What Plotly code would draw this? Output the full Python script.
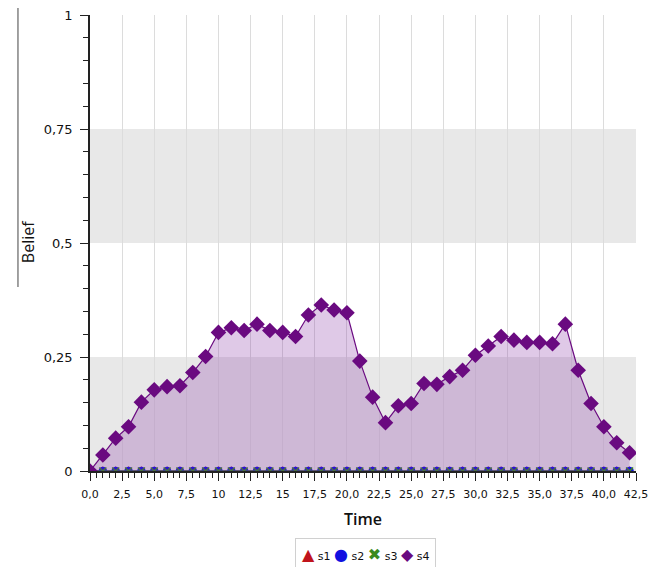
import plotly.graph_objects as go

time = list(range(43))
s1 = [0.0] * 43
s2 = [0.0] * 43
s3 = [0.0] * 43
s4 = [0.0, 0.035, 0.072, 0.097, 0.151, 0.178, 0.185, 0.187, 0.216, 0.251,
      0.304, 0.314, 0.308, 0.322, 0.308, 0.304, 0.295, 0.342, 0.364, 0.353,
      0.347, 0.241, 0.162, 0.106, 0.143, 0.148, 0.192, 0.190, 0.207, 0.221,
      0.254, 0.274, 0.295, 0.287, 0.282, 0.282, 0.279, 0.322, 0.221, 0.148,
      0.097, 0.062, 0.040]

x_tickvals = [i * 2.5 for i in range(18)]
x_ticktext = ["0,0", "2,5", "5,0", "7,5", "10", "12,5", "15", "17,5", "20,0",
              "22,5", "25,0", "27,5", "30,0", "32,5", "35,0", "37,5", "40,0", "42,5"]
y_tickvals = [0, 0.25, 0.5, 0.75, 1]
y_ticktext = ["0", "0,25", "0,5", "0,75", "1"]
bands = [(0, 0.25), (0.5, 0.75)]

series = [
    ("s1", s1, "#c0141c", "triangle-up", "▲"),
    ("s2", s2, "#1010e0", "circle", "●"),
    ("s3", s3, "#3a8a1e", "x-thin", "✖"),
]

fig = go.Figure()

for name, values, color, symbol, _ in series:
    fig.add_trace(go.Scatter(
        x=time, y=values, name=name, mode="lines+markers",
        line=dict(color=color, width=1),
        marker=dict(color=color, symbol=symbol, size=7,
                    line=dict(color=color, width=1.5))))

fig.add_trace(go.Scatter(
    x=time, y=s4, name="s4", mode="lines+markers",
    fill="tozeroy", fillcolor="rgba(128,40,160,0.25)",
    line=dict(color="#6a0a80", width=1.2),
    marker=dict(color="#6a0a80", symbol="diamond", size=12)))

for y0, y1 in bands:
    fig.add_shape(type="rect", xref="x", yref="y", x0=0, x1=42.5, y0=y0, y1=y1,
                  fillcolor="#e8e8e8", line_width=0, layer="below")

# y title with the line beside it
fig.add_shape(type="line", xref="paper", yref="paper",
              x0=-0.1319, x1=-0.1319, y0=1.0154, y1=0.4035,
              line=dict(color="#444444", width=1))
fig.add_annotation(text="Belief", xref="paper", yref="paper", x=-0.1136, y=0.504,
                   xanchor="center", yanchor="middle",
                   textangle=-90, showarrow=False,
                   font=dict(family="Open Sans, sans-serif", size=16,
                             color="#111111", weight=500))

# compact legend box
legend_parts = [(n, c, g) for n, _, c, _, g in series] + [("s4", "#6a0a80", "◆")]
legend_text = " ".join(
    f'<span style="color:{c};font-size:16px">{g}</span> {n}' for n, c, g in legend_parts)
fig.add_annotation(text=legend_text, xref="paper", yref="paper", x=0.5037, y=-0.146,
                   xanchor="center", yanchor="top", showarrow=False,
                   bordercolor="#d0d0d0", borderwidth=1, borderpad=6,
                   bgcolor="white",
                   font=dict(family="DejaVu Sans, sans-serif", size=11, color="#111111"))

fig.update_xaxes(
    range=[0, 42.5], tickvals=x_tickvals, ticktext=x_ticktext,
    showgrid=True, gridcolor="#dcdcdc", gridwidth=1,
    showline=True, linecolor="#222222", linewidth=1.5,
    ticks="outside", ticklen=8, tickcolor="#222222",
    minor=dict(dtick=0.5, ticks="outside", ticklen=5, tickcolor="#222222", showgrid=False),
    tickfont=dict(family="DejaVu Sans, sans-serif", size=11, color="#111111"),
    ticklabelstandoff=4, ticklabeloverflow="allow",
    title=dict(text="Time", font=dict(family="Open Sans, sans-serif", size=16,
                                      color="#111111", weight=600), standoff=14),
    zeroline=False, automargin=False)

fig.update_yaxes(
    range=[0, 1], tickvals=y_tickvals, ticktext=y_ticktext,
    showgrid=False,
    showline=True, linecolor="#222222", linewidth=1.5,
    ticks="outside", ticklen=8, tickcolor="#222222",
    minor=dict(dtick=0.05, ticks="outside", ticklen=5, tickcolor="#222222", showgrid=False),
    tickfont=dict(family="DejaVu Sans, sans-serif", size=13, color="#111111"),
    ticklabelstandoff=5, ticklabeloverflow="allow",
    zeroline=False, automargin=False)

fig.update_layout(
    width=658, height=559,
    margin=dict(l=82, r=30, t=7, b=96, autoexpand=False),
    paper_bgcolor="white", plot_bgcolor="white",
    font=dict(family="Open Sans, sans-serif"),
    showlegend=False,
)

fig.write_html("out.html")
